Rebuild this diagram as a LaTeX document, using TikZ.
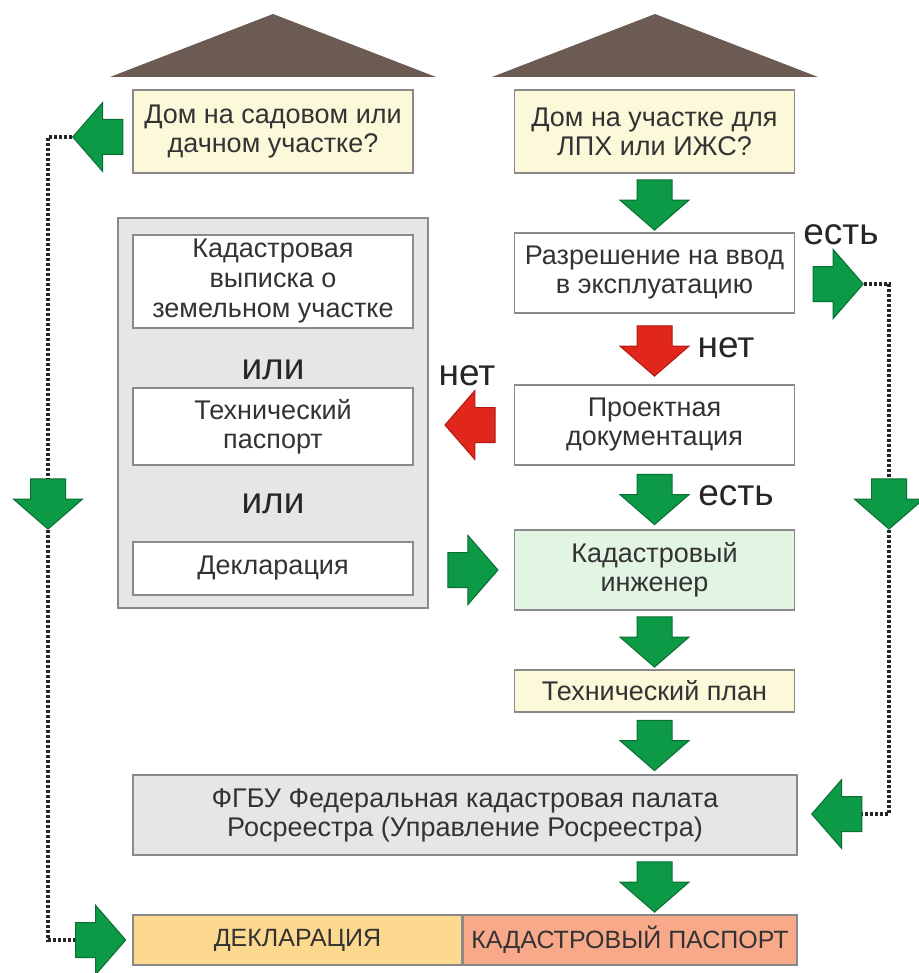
\documentclass[tikz,border=0pt]{standalone}
\usepackage{fontspec}
\setmainfont{Liberation Sans}
\usetikzlibrary{shapes.arrows,calc}
\definecolor{boxline}{HTML}{8A8A8A}
\definecolor{txt}{HTML}{333333}
\definecolor{yellowf}{HTML}{FCF8DA}
\definecolor{greenf}{HTML}{E2F5E2}
\definecolor{grayf}{HTML}{E6E6E6}
\definecolor{orangef}{HTML}{FDD990}
\definecolor{salmonf}{HTML}{F7A98A}
\definecolor{roof}{HTML}{6B5B53}
\definecolor{arrgreen}{HTML}{0C9A46}
\definecolor{arrline}{HTML}{0A6E33}
\definecolor{arrred}{HTML}{E1261C}
\definecolor{arrredline}{HTML}{B01A12}
\tikzset{
  box/.style={draw=boxline,line width=0.75pt,fill=white,text=txt,align=center,
    minimum width=140pt,inner sep=0pt,font=\fontsize{13.5}{14.5}\selectfont},
  yellowbox/.style={box,fill=yellowf},
  word/.style={font=\fontsize{18.5}{20}\selectfont,text=black!85,inner sep=0pt,anchor=base},
  arr/.style={single arrow,draw=arrline,fill=arrgreen,line width=0.5pt,
    inner sep=8.5pt,minimum height=24.5pt,
    single arrow head extend=8.5pt,single arrow tip angle=98},
  redarr/.style={arr,fill=arrred,draw=arrredline},
  % the text centre sits off the middle of the arrow, so shift it back
  pointdown/.style={shape border rotate=270,yshift=2.8pt},
  pointleft/.style={shape border rotate=180,xshift=3.2pt},
  pointright/.style={shape border rotate=0,xshift=-3pt},
  dotline/.style={line width=1.6pt,dash pattern=on 1.5pt off 1pt,draw=black!85}
}
\begin{document}
\begin{tikzpicture}[x=0.5pt,y=-0.5pt]
\pgfmathsetmacro{\xl}{273}
\pgfmathsetmacro{\xr}{654.5}
\useasboundingbox (0,0) rectangle (918,973);
  % roofs
  \fill[roof] (110,77) -- (273,14) -- (436,77) -- cycle;
  \fill[roof] (492,77) -- (655,14) -- (818,77) -- cycle;
  % right column
  \node[yellowbox,minimum height=41.5pt] (dacha) at (\xl,131.5) {Дом на садовом или\\дачном участке?};
  \node[yellowbox,minimum height=41.5pt] (izhs) at (\xr,131.5) {Дом на участке для\\ЛПХ или ИЖС?};
  \node[box,minimum height=40pt] (vvod) at (\xr,273) {Разрешение на ввод\\в эксплуатацию};
  \node[box,minimum height=40pt] (proekt) at (\xr,425) {Проектная\\документация};
  \node[box,fill=greenf,minimum height=40pt] (inzh) at (\xr,570) {Кадастровый\\инженер};
  \node[yellowbox,minimum height=21pt] (tplan) at (\xr,691) {Технический план};
  % left column
  \node[box,fill=grayf,minimum width=155pt,minimum height=195pt] (docs) at (\xl,413) {};
  \node[box,minimum height=46.5pt,font=\fontsize{13.5}{15}\selectfont] (vypiska) at (\xl,281.5)
    {Кадастровая\\выписка о\\земельном участке};
  \node[word] (ili1) at (\xl,379) {или};
  \node[box,minimum height=38.5pt] (tpasp) at (\xl,426.5) {Технический\\паспорт};
  \node[word] (ili2) at (\xl,513) {или};
  \node[box,minimum height=26.5pt] (dekl) at (\xl,568.5) {Декларация};
  % bottom
  \node[box,fill=grayf,minimum width=332pt,minimum height=40pt] (palata) at (465,815)
    {ФГБУ Федеральная кадастровая палата\\Росреестра (Управление Росреестра)};
  \node[box,fill=orangef,minimum width=164.5pt,minimum height=25pt,font=\fontsize{12.5}{14}\selectfont] (itog1) at (297.5,940) {ДЕКЛАРАЦИЯ};
  \node[box,fill=salmonf,minimum width=167pt,minimum height=25pt,font=\fontsize{12.5}{14}\selectfont] (itog2) at (630,940) {КАДАСТРОВЫЙ ПАСПОРТ};
  % block arrows
  \node[arr,pointdown] (s1) at ($(izhs.south)!.5!(vvod.north)$) {};
  \node[redarr,pointdown] (s2) at ($(vvod.south)!.5!(proekt.north)$) {};
  \node[redarr,pointleft] (s3) at ($(proekt.west)!.5!(proekt.west -| docs.east)$) {};
  \node[arr,pointdown] (s4) at ($(proekt.south)!.5!(inzh.north)$) {};
  \node[arr,pointright] (s5) at ($(inzh.west)!.5!(inzh.west -| docs.east)$) {};
  \node[arr,pointdown] (s6) at ($(inzh.south)!.5!(tplan.north)$) {};
  \node[arr,pointdown] (s7) at ($(tplan.south)!.5!(tplan.south |- palata.north)$) {};
  \node[arr,pointdown] (s8) at ($(tplan.south |- palata.south)!.5!(tplan.south |- itog2.north)$) {};
  \node[word] (net1) at (726,357) {нет};
  \node[word] (net2) at (467,385) {нет};
  \node[word] (est1) at (736,505) {есть};
  \node[word] (est2) at (841,244) {есть};
  % side branches
  \node[arr,pointright] (rt) at (836.5,284) {};
  \node[arr,pointdown] (rd) at (889,502) {};
  \node[arr,pointleft] (rl) at (838,814) {};
  \node[arr,pointleft] (lt) at (99,137) {};
  \node[arr,pointdown] (ld) at (48,502) {};
  \node[arr,pointright] (lb) at (99,940) {};
  \draw[dotline] (lt.tip) -| (ld.tail);
  \draw[dotline] (ld.tip) |- (lb.tail);
  \draw[dotline] (rt.tip) -| (rd.tail);
  \draw[dotline] (rd.tip) |- (rl.tail);
\end{tikzpicture}
\end{document}
